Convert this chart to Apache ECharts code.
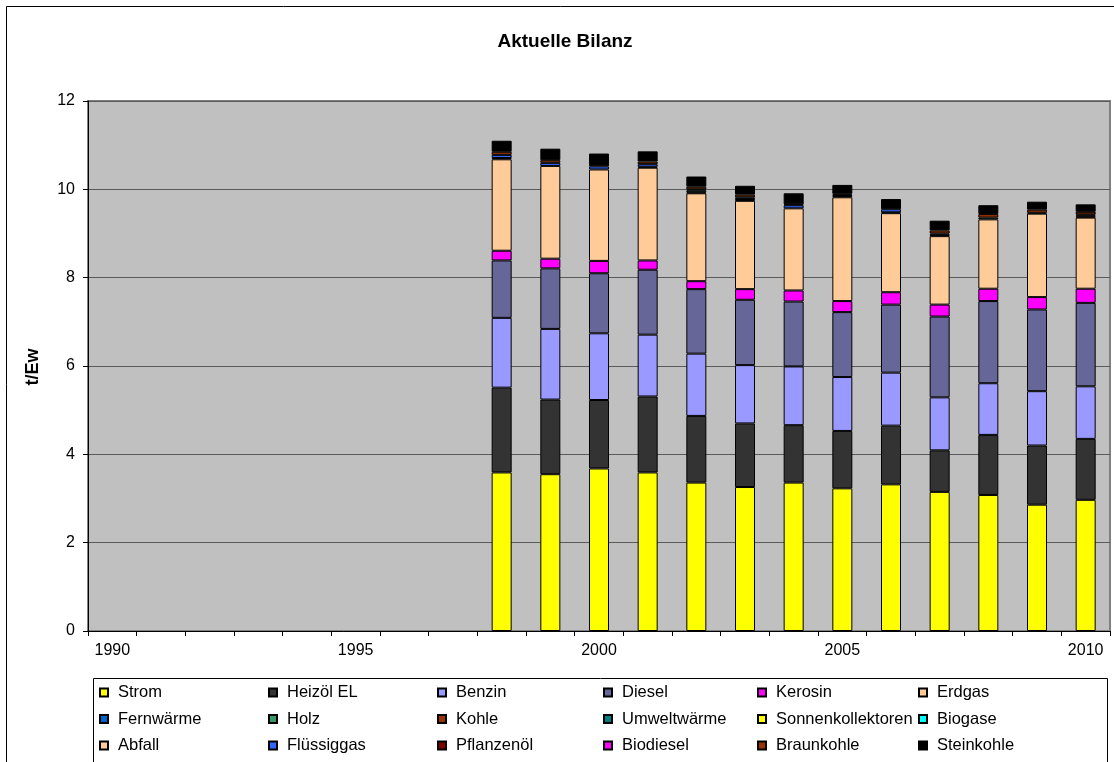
<!DOCTYPE html>
<html>
<head>
<meta charset="utf-8">
<script src="https://cdn.jsdelivr.net/npm/echarts@6/dist/echarts.min.js"></script>
<style>html,body{margin:0;padding:0;background:#fff}#c{width:1114px;height:762px}</style>
</head>
<body>
<div id="c"></div>
<script>
// Categories 1990..2010
const years = ['1990','1991','1992','1993','1994','1995','1996','1997','1998','1999','2000',
  '2001','2002','2003','2004','2005','2006','2007','2008','2009','2010'];
// No data for 1990-1997
const emptyYears = [null,null,null,null,null,null,null,null];
// Values 1998..2010 (t/Ew)
const strom        = [3.59,3.55,3.68,3.59,3.36,3.26,3.36,3.23,3.32,3.15,3.08,2.86,2.97];
const heizoel      = [1.92,1.69,1.55,1.72,1.51,1.44,1.30,1.30,1.33,0.94,1.36,1.34,1.38];
const benzin       = [1.58,1.60,1.51,1.40,1.41,1.32,1.33,1.22,1.20,1.20,1.17,1.23,1.19];
const diesel       = [1.30,1.37,1.36,1.47,1.46,1.48,1.47,1.47,1.54,1.83,1.86,1.85,1.89];
const kerosin      = [0.22,0.22,0.28,0.21,0.18,0.24,0.25,0.25,0.28,0.27,0.28,0.28,0.32];
const erdgas       = [2.07,2.10,2.07,2.10,1.99,2.00,1.86,2.35,1.79,1.55,1.57,1.89,1.61];
const fernwaerme   = [0.03,null,null,0.02,0.02,0.02,null,0.03,0.02,0.03,null,null,null];
const holz         = [null,null,null,null,0.04,0.02,null,null,null,null,0.04,null,0.02];
const kohle        = [null,null,null,null,null,null,null,null,null,null,null,null,0.03];
const umweltwaerme = [null,null,null,null,0.03,null,null,null,null,0.03,null,0.02,0.02];
const sonnen       = [null,null,null,null,null,null,null,null,null,null,null,null,null];
const biogase      = [null,null,null,null,null,null,null,null,null,null,null,null,null];
const abfall       = [null,null,null,null,null,null,null,null,null,null,null,null,null];
const fluessiggas  = [0.07,0.07,0.07,0.06,null,0.04,0.07,0.03,0.07,null,null,null,null];
const pflanzenoel  = [null,null,null,null,null,null,null,null,null,null,null,null,null];
const biodiesel    = [null,null,null,null,null,null,null,null,null,null,null,null,null];
const braunkohle   = [0.07,0.06,null,0.06,0.06,0.06,0.02,0.02,null,0.07,0.08,0.07,0.06];
const steinkohle   = [0.25,0.26,0.29,0.23,0.23,0.20,0.25,0.20,0.23,0.22,0.20,0.18,0.17];

const seriesNames = ['Strom','Heizöl EL','Benzin','Diesel','Kerosin','Erdgas',
  'Fernwärme','Holz','Kohle','Umweltwärme','Sonnenkollektoren','Biogase',
  'Abfall','Flüssiggas','Pflanzenöl','Biodiesel','Braunkohle','Steinkohle'];
const seriesValues = [strom,heizoel,benzin,diesel,kerosin,erdgas,fernwaerme,holz,kohle,
  umweltwaerme,sonnen,biogase,abfall,fluessiggas,pflanzenoel,biodiesel,braunkohle,steinkohle];
const seriesColors = ['#FFFF00','#333333','#9999FF','#666699','#FF00FF','#FFCC99',
  '#0066CC','#339966','#993300','#008080','#FFFF00','#00FFFF',
  '#FFCC99','#3366FF','#800000','#FF00FF','#993300','#000000'];

const FONT = 'Liberation Sans, Arial, sans-serif';

const series = seriesNames.map((n,i)=>({
  name:n, type:'bar', stack:'total', barWidth:20,
  data: emptyYears.concat(seriesValues[i]),
  itemStyle:{color:seriesColors[i], borderColor:'#000', borderWidth:1},
  emphasis:{disabled:true}
}));

// legend columns (rows of 6 in the original)
const colLeft = [99,268,437,603,757,918];
const legends = colLeft.map((x,c)=>({
  orient:'vertical', left:x, top:684, padding:0, itemGap:9.5,
  itemWidth:8, itemHeight:8, icon:'rect', selectedMode:false,
  data:[seriesNames[c], seriesNames[c+6], seriesNames[c+12]],
  textStyle:{fontFamily:FONT, fontSize:16.5, color:'#000', lineHeight:17, padding:[0,0,0,5]}
}));

const chart = echarts.init(document.getElementById('c'), null, {renderer:'canvas'});
chart.setOption({
  animation:false,
  backgroundColor:'#fff',
  grid:{left:88, right:4, top:101, bottom:131, show:true, backgroundColor:'#C0C0C0',
        borderColor:'#808080', borderWidth:2},
  legend: legends,
  xAxis:{type:'category', data:years, boundaryGap:true,
    axisLine:{lineStyle:{color:'#000', width:1}},
    axisTick:{show:true, interval:0, length:5, lineStyle:{color:'#000'}},
    axisLabel:{interval:4, margin:12, fontFamily:FONT, fontSize:16, color:'#000'},
    splitLine:{show:false}},
  yAxis:{type:'value', min:0, max:12, interval:2,
    axisLine:{show:true, lineStyle:{color:'#000', width:1}},
    axisTick:{show:true, length:5, lineStyle:{color:'#000'}},
    axisLabel:{margin:13, fontFamily:FONT, fontSize:16, color:'#000'},
    splitLine:{show:true, lineStyle:{color:'#5a5a5a', width:1}}},
  series: series,
  graphic:[
    {type:'rect', shape:{x:6.5, y:6.5, width:1200, height:1000}, style:{fill:'none', stroke:'#000', lineWidth:1}, silent:true, z:-1},
    {type:'rect', shape:{x:93.5, y:678.5, width:1014, height:200}, style:{fill:'none', stroke:'#000', lineWidth:1}, silent:true},
    {type:'text', x:565, y:42, style:{text:'Aktuelle Bilanz', font:'bold 19px '+FONT, fill:'#000', textAlign:'center', textVerticalAlign:'middle'}},
    {type:'text', x:33, y:367, rotation:Math.PI/2, style:{text:'t/Ew', font:'bold 18px '+FONT, fill:'#000', textAlign:'center', textVerticalAlign:'middle'}}
  ]
});
</script>
</body>
</html>
